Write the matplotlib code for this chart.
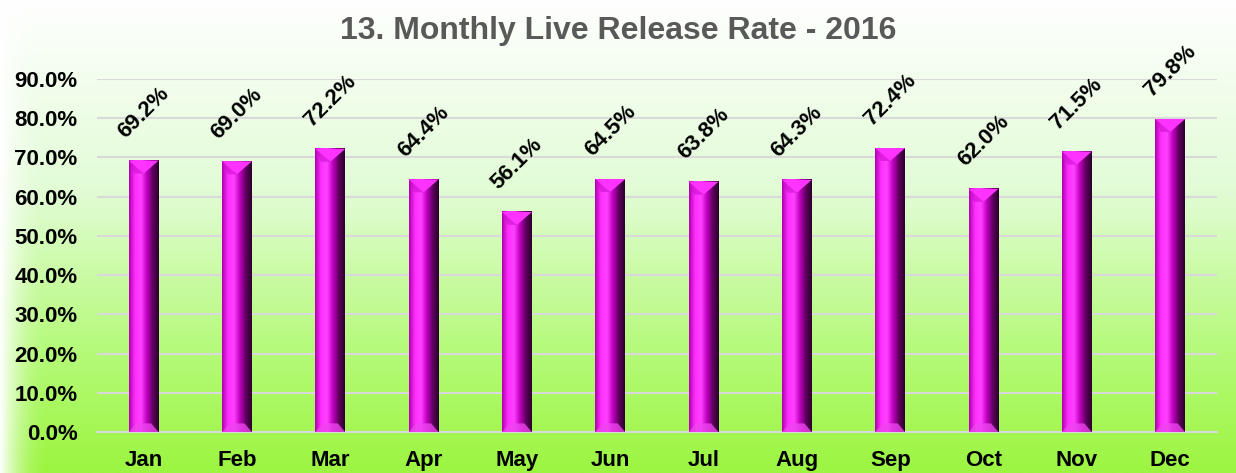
import numpy as np
import matplotlib.pyplot as plt
from matplotlib.colors import LinearSegmentedColormap
from matplotlib.patches import Polygon

plt.rcParams['font.family'] = ['Liberation Sans', 'DejaVu Sans']

months = ['Jan', 'Feb', 'Mar', 'Apr', 'May', 'Jun',
          'Jul', 'Aug', 'Sep', 'Oct', 'Nov', 'Dec']
rates = [69.2, 69.0, 72.2, 64.4, 56.1, 64.5, 63.8, 64.3, 72.4, 62.0, 71.5, 79.8]
yticks = [0, 10, 20, 30, 40, 50, 60, 70, 80, 90]

fig = plt.figure(figsize=(12.36, 4.73), dpi=100)

# 背景のグラデーション（上：白 → 下：ライム）
bg = fig.add_axes([0, 0, 1, 1], zorder=-10)
bg_cmap = LinearSegmentedColormap.from_list(
    'bg', [(0.0, '#9cf540'), (0.25, '#b4fa78'), (0.6, '#e2fcd6'), (1.0, '#ffffff')])
grad = np.linspace(0, 1, 256).reshape(-1, 1)
bg.imshow(grad, aspect='auto', cmap=bg_cmap, origin='lower', extent=[0, 1, 0, 1])
# 左端のぼかし
fade = np.linspace(1, 0, 64).reshape(1, -1)
white = np.ones((1, 64, 4))
white[..., 3] = fade ** 2
bg.imshow(white, aspect='auto', extent=[0, 0.04, 0, 1])
bg.set_xlim(0, 1)
bg.set_ylim(0, 1)
bg.axis('off')

ax = fig.add_axes([0.0785, 0.0867, 0.906, 0.7463])
ax.patch.set_alpha(0)

x = np.arange(len(months))
width = 0.32

bar_cmap = LinearSegmentedColormap.from_list(
    'bar', ['#b000b0', '#ff30ff', '#ff40ff', '#c000c0', '#600060', '#2a002a'])
hgrad = np.linspace(0, 1, 64).reshape(1, -1)

bars = ax.bar(x, rates, width=width, color='none', zorder=3)
for b, v in zip(bars, rates):
    x0 = b.get_x()
    x1 = x0 + b.get_width()
    xc = (x0 + x1) / 2
    ax.imshow(hgrad, aspect='auto', cmap=bar_cmap, extent=[x0, x1, 0, v], zorder=3)
    # 上のベベル
    ax.add_patch(Polygon([(x0, v), (x1, v), (xc, v - 3.3)], closed=True,
                         facecolor='#ff33ff', edgecolor='none', zorder=4))
    ax.add_patch(Polygon([(x0, v), (xc, v - 3.3), (x0 + 0.06, v - 3.3)], closed=True,
                         facecolor='#cc10cc', edgecolor='none', zorder=4, alpha=0.6))
    # 下のベベル
    ax.add_patch(Polygon([(x0, 0), (x1, 0), (x1 - 0.08, 2.2), (x0 + 0.08, 2.2)], closed=True,
                         facecolor='#ee44ee', edgecolor='none', zorder=4, alpha=0.8))
    ax.annotate(f'{v:.1f}%', (xc, v), xytext=(0, 13), textcoords='offset points',
                rotation=45, ha='center', va='bottom', fontsize=16,
                fontweight='bold', color='black', zorder=5)

ax.set_xlim(-0.5, len(months) - 0.5)
ax.set_ylim(0, 90)
ax.set_yticks(yticks)
ax.set_yticklabels([f'{t:.1f}%' for t in yticks], fontsize=16, fontweight='bold')
ax.set_xticks(x)
ax.set_xticklabels(months, fontsize=16, fontweight='bold')
ax.tick_params(axis='y', length=0, pad=14)
ax.tick_params(axis='x', length=0, pad=13)
ax.grid(axis='y', color='#d9d9d9', linewidth=1.5, zorder=0)
ax.set_axisbelow(True)
for s in ['top', 'right', 'left']:
    ax.spines[s].set_visible(False)
ax.spines['bottom'].set_color('#d9d9d9')
ax.spines['bottom'].set_linewidth(1.5)

fig.text(0.5, 0.935, '13. Monthly Live Release Rate - 2016', ha='center', va='center',
         fontsize=23, fontweight='bold', color='#595959')

fig.savefig('out.png', dpi=100)
